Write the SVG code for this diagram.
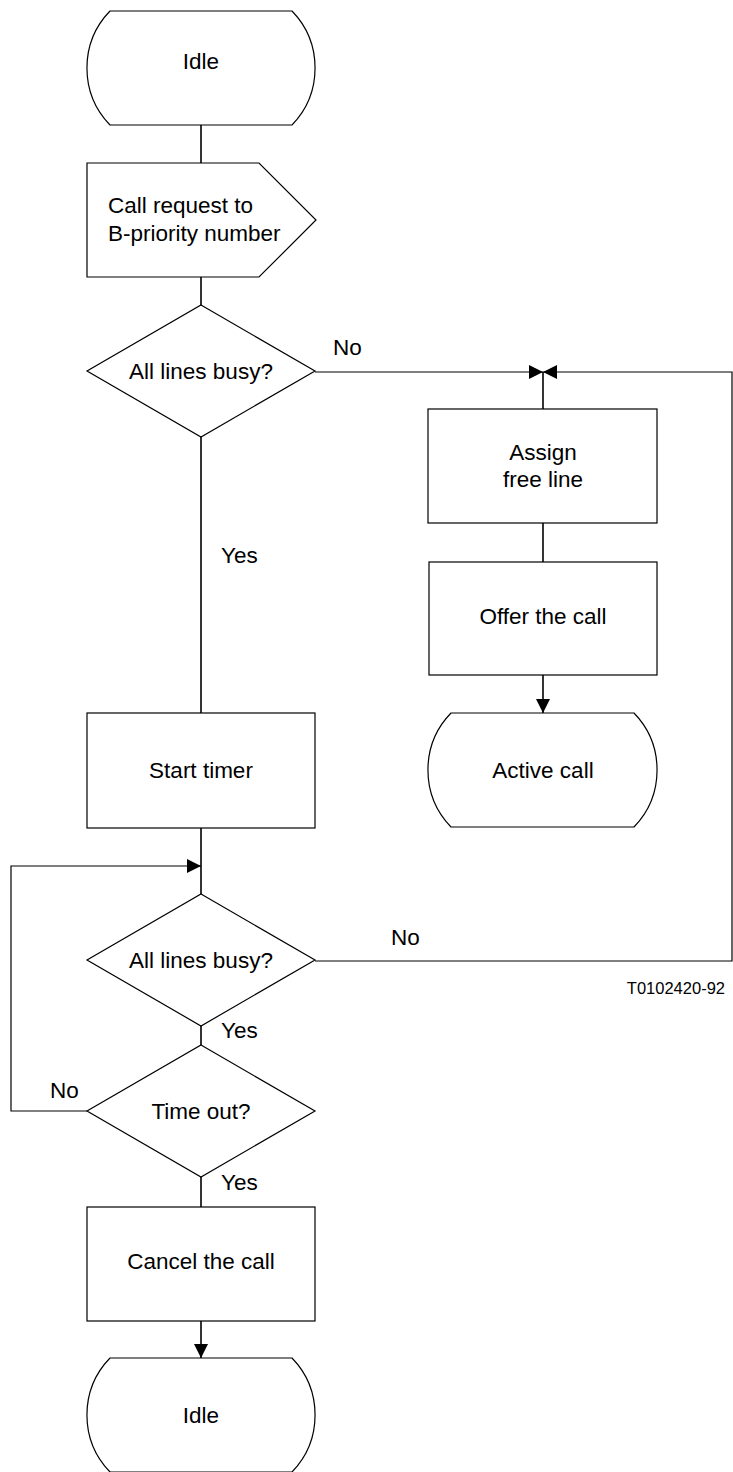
<svg xmlns="http://www.w3.org/2000/svg" width="733" height="1472" viewBox="0 0 733 1472">
<style>
.s{fill:#fff;stroke:#000;stroke-width:1.2}
.c{fill:none;stroke:#000;stroke-width:1.6}
.h{fill:none;stroke:#000;stroke-width:1.2}
text{font-family:"Liberation Sans",Arial,sans-serif;font-size:22.5px;fill:#000}
.m{text-anchor:middle}
.small{font-size:16.5px}
</style>
<defs>
<marker id="ah" viewBox="0 0 14 14" refX="14" refY="7" markerWidth="14" markerHeight="14" markerUnits="userSpaceOnUse" orient="auto">
<path d="M0,0 L14,7 L0,14 Z" fill="#000"/>
</marker>
</defs>
<g id="connectors">
<line class="c" x1="201" y1="125" x2="201" y2="163"/>
<line class="c" x1="201" y1="277" x2="201" y2="305"/>
<line class="c" x1="201" y1="437" x2="201" y2="713"/>
<line class="h" x1="315" y1="372" x2="543" y2="372" marker-end="url(#ah)"/>
<polyline class="h" points="315,961 732,961 732,372 543,372" marker-end="url(#ah)"/>
<line class="c" x1="543" y1="372" x2="543" y2="409"/>
<line class="c" x1="543" y1="523" x2="543" y2="562"/>
<line class="c" x1="543" y1="675" x2="543" y2="713" marker-end="url(#ah)"/>
<line class="c" x1="201" y1="828" x2="201" y2="894"/>
<polyline class="h" points="87,1111 11,1111 11,866 201,866" marker-end="url(#ah)"/>
<line class="c" x1="201" y1="1026" x2="201" y2="1045"/>
<line class="c" x1="201" y1="1177" x2="201" y2="1207"/>
<line class="c" x1="201" y1="1321" x2="201" y2="1358" marker-end="url(#ah)"/>
<text x="333" y="355">No</text>
<text x="221" y="563">Yes</text>
<text x="391" y="945">No</text>
<text x="221" y="1038">Yes</text>
<text x="50" y="1098">No</text>
<text x="221" y="1190">Yes</text>
<text class="small" x="725" y="994" text-anchor="end">T0102420-92</text>
</g>
<g id="idle1">
<path class="s" d="M110,11 H292 A82,82 0 0 1 292,125 H110 A82,82 0 0 1 110,11 Z"/>
<text class="m" x="201" y="69">Idle</text>
</g>
<g id="callRequest">
<path class="s" d="M87,163 H259 L316,220 L259,277 H87 Z"/>
<text x="108" y="213">Call request to</text>
<text x="108" y="241">B-priority number</text>
</g>
<g id="decision1">
<path class="s" d="M201,305 L315,371 L201,437 L87,371 Z"/>
<text class="m" x="201" y="379">All lines busy?</text>
</g>
<g id="assign">
<rect class="s" x="428" y="409" width="229" height="114"/>
<text class="m" x="543" y="460">Assign</text>
<text class="m" x="543" y="487">free line</text>
</g>
<g id="offer">
<rect class="s" x="429" y="562" width="228" height="113"/>
<text class="m" x="543" y="624">Offer the call</text>
</g>
<g id="activeCall">
<path class="s" d="M451,713 H634 A82,82 0 0 1 634,827 H451 A82,82 0 0 1 451,713 Z"/>
<text class="m" x="543" y="778">Active call</text>
</g>
<g id="startTimer">
<rect class="s" x="87" y="713" width="228" height="115"/>
<text class="m" x="201" y="778">Start timer</text>
</g>
<g id="decision2">
<path class="s" d="M201,894 L315,960 L201,1026 L87,960 Z"/>
<text class="m" x="201" y="968">All lines busy?</text>
</g>
<g id="decision3">
<path class="s" d="M201,1045 L315,1111 L201,1177 L87,1111 Z"/>
<text class="m" x="201" y="1119">Time out?</text>
</g>
<g id="cancel">
<rect class="s" x="87" y="1207" width="228" height="114"/>
<text class="m" x="201" y="1269">Cancel the call</text>
</g>
<g id="idle2">
<path class="s" d="M110,1358 H292 A82,82 0 0 1 292,1472 H110 A82,82 0 0 1 110,1358 Z"/>
<text class="m" x="201" y="1423">Idle</text>
</g>
</svg>
